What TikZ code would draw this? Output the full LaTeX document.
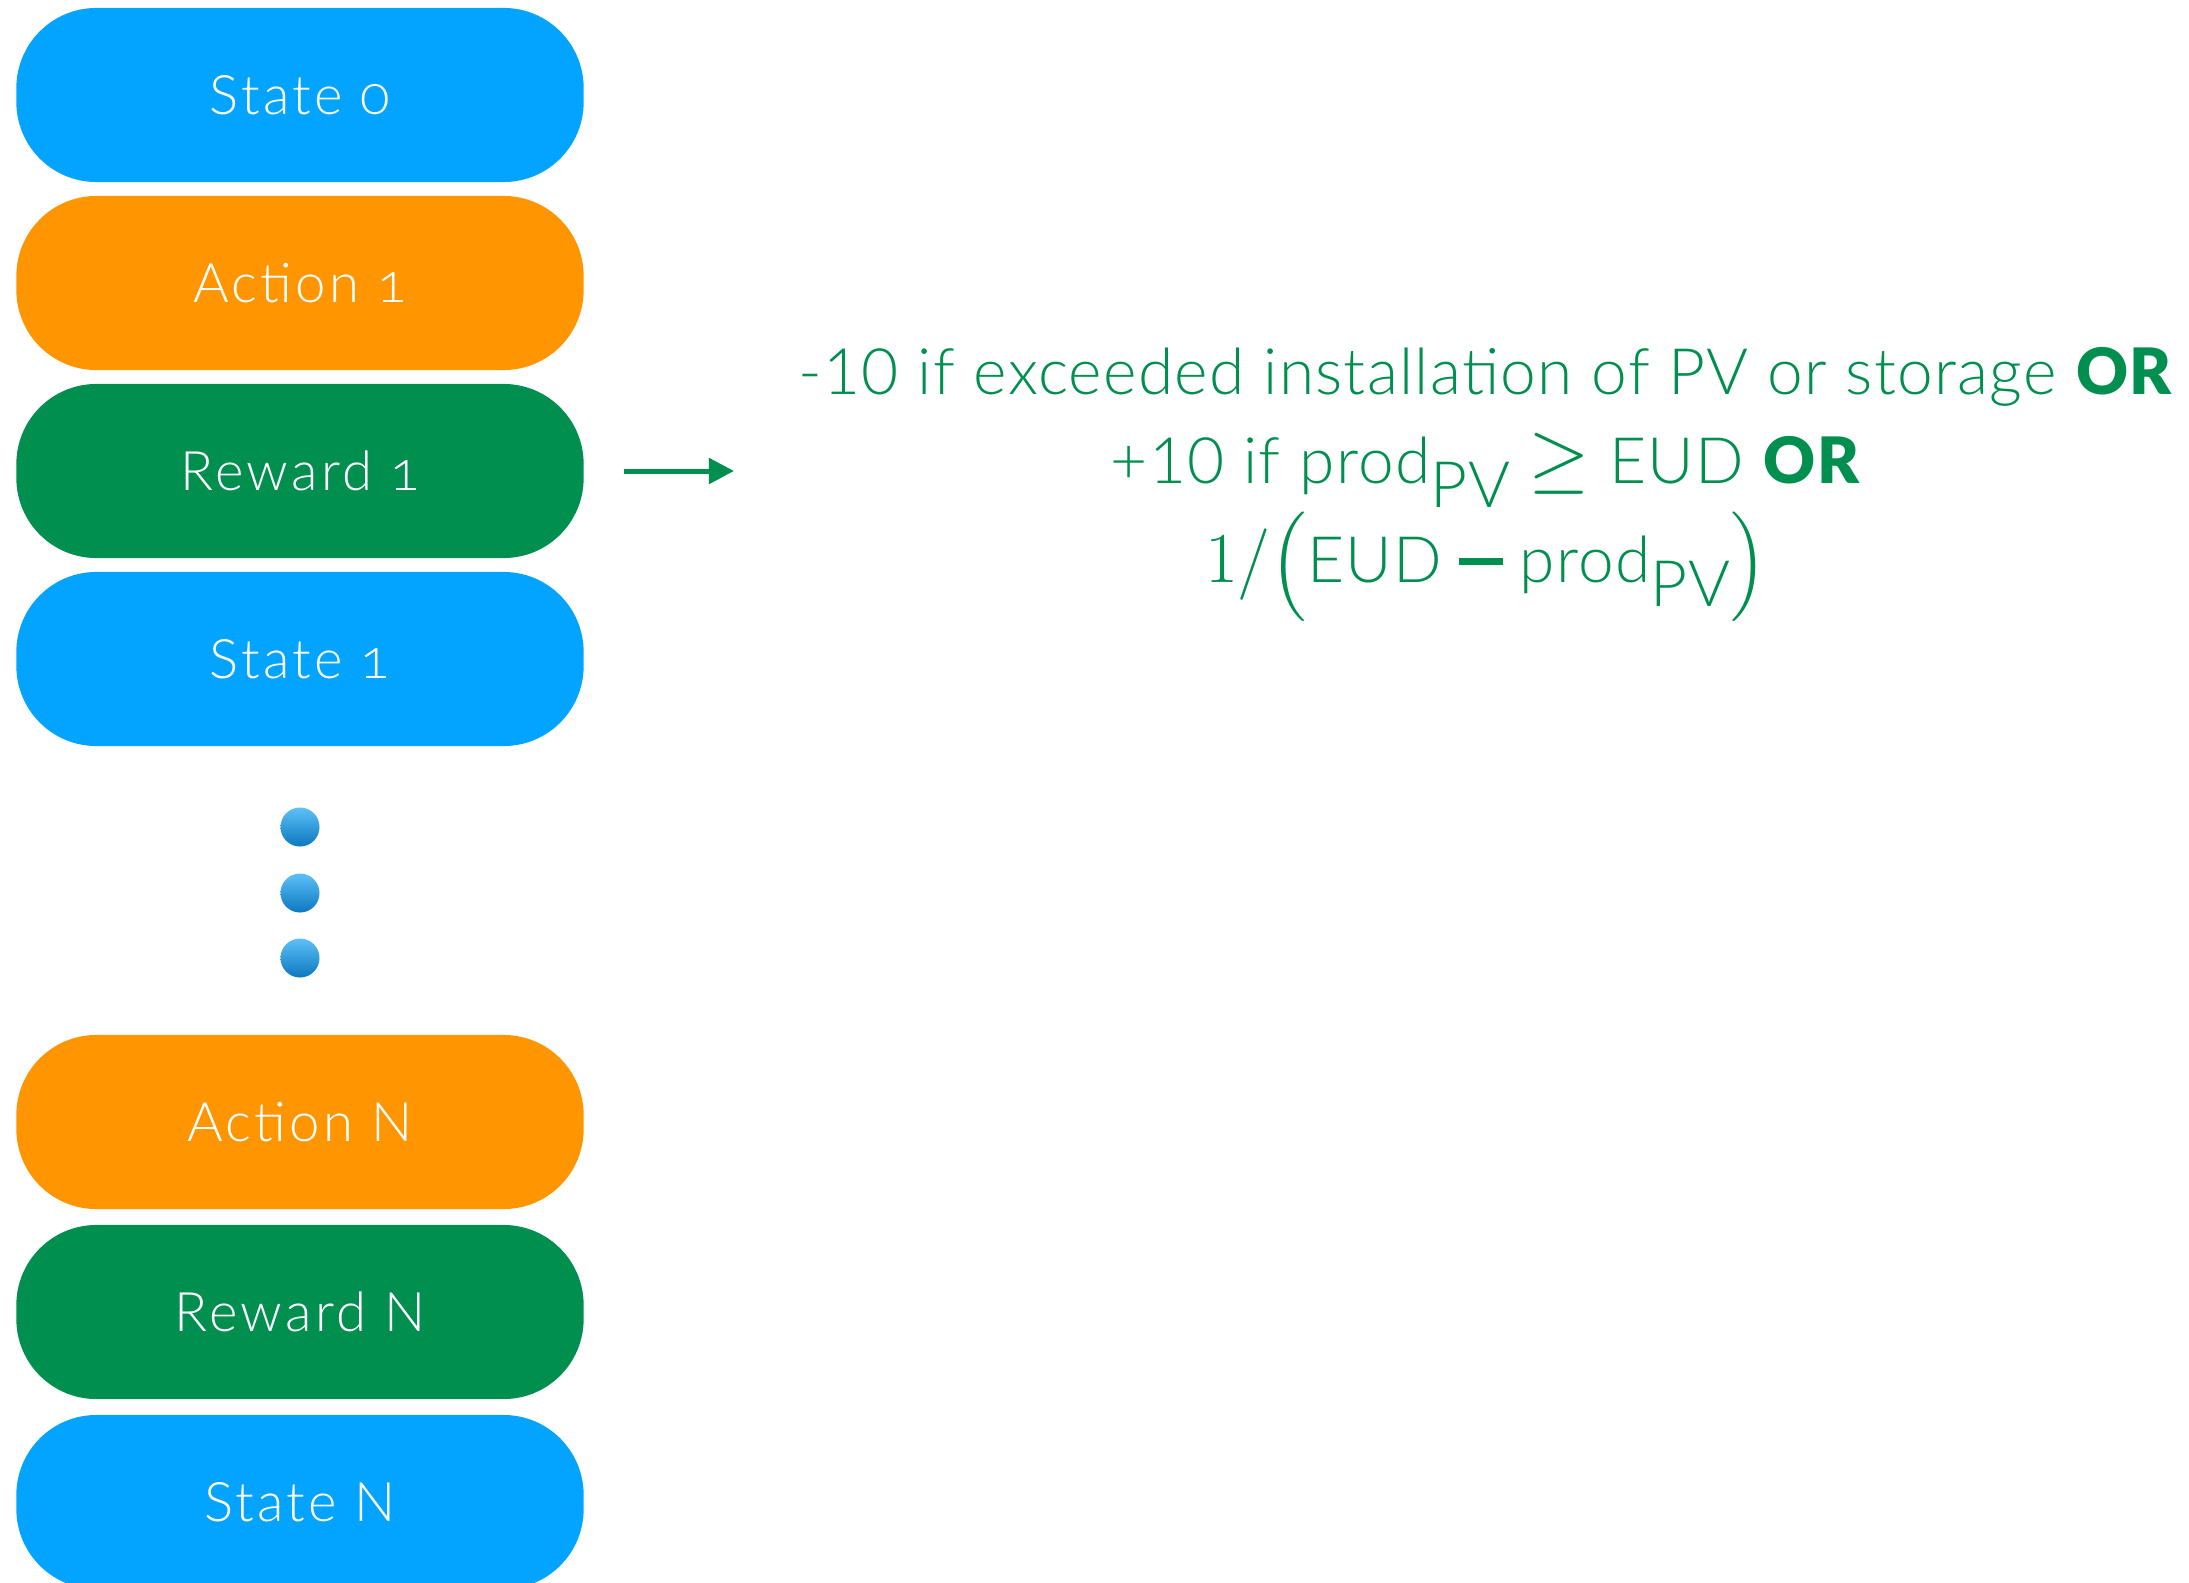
\documentclass[tikz,border=0pt]{standalone}
\usepackage{amsmath}
\usepackage[no-math]{fontspec}
\setmainfont{Lato Light}[BoldFont=Lato Black]
\newfontfamily\labelfont{Lato Light}[LetterSpace=6, Numbers=OldStyle]
\newfontfamily\rulefont{Lato Light}[LetterSpace=2, BoldFont=Lato Black]
\usetikzlibrary{arrows.meta}

\definecolor{stateblue}{HTML}{02A4FF}
\definecolor{actionorange}{HTML}{FF9500}
\definecolor{rewardgreen}{HTML}{008F4F}
\definecolor{dotlight}{HTML}{5EC0F8}
\definecolor{dotdark}{HTML}{0B78BF}

\tikzset{
  pill/.style={fill=#1, rounded corners=0.8cm, minimum width=5.67cm, minimum height=1.74cm,
    inner sep=0pt, text=white, font={\labelfont\fontsize{15.5}{18}\selectfont}},
  ruletext/.style={anchor=base, inner sep=0pt, text=rewardgreen, font={\rulefont\fontsize{18.2}{21}\selectfont}},
}

\begin{document}
\begin{tikzpicture}[x=0.01cm, y=-0.01cm, >={Triangle[length=0.25cm, width=0.25cm]}]
    \useasboundingbox (0,0) rectangle (2189,1582);

    % First steps of the episode
    \node[pill=stateblue] (s0) at (300,95) {State 0};
    \node[pill=actionorange] (a1) at (300,283) {Action 1};
    \node[pill=rewardgreen] (r1) at (300,471) {Reward 1};
    \node[pill=stateblue] (s1) at (300,659) {State 1};

    % Skipped steps
    \shade[top color=dotlight, bottom color=dotdark] (300,827) circle (0.195cm);
    \shade[top color=dotlight, bottom color=dotdark] (300,893) circle (0.195cm);
    \shade[top color=dotlight, bottom color=dotdark] (300,958) circle (0.195cm);

    % Last steps of the episode
    \node[pill=actionorange] (aN) at (300,1122) {Action N};
    \node[pill=rewardgreen] (rN) at (300,1312) {Reward N};
    \node[pill=stateblue] (sN) at (300,1502) {State N};

    % How the reward is computed
    \node[ruletext] (rw1) at (1486,394) {-10 if exceeded installation of PV or storage \textbf{OR}};
    \node[ruletext] (rw2) at (1486,483) {+10 if prod\raisebox{-0.24cm}{PV} \scalebox{1.3}{$\geq$} EUD \textbf{OR}};
    \node[ruletext] (rw3) at (1486,582) {\scalebox{1.12}{\fontfamily{lmr}\selectfont 1/}$\Big(\text{EUD}\;\rule[0.17cm]{0.44cm}{0.07cm}\;\text{prod}\raisebox{-0.24cm}{PV}\Big)$};

    \coordinate (tip) at (734,471);
    \draw[->, rewardgreen, line width=0.05cm] ([xshift=0.4cm]r1.east) -- (tip);

\end{tikzpicture}
\end{document}
